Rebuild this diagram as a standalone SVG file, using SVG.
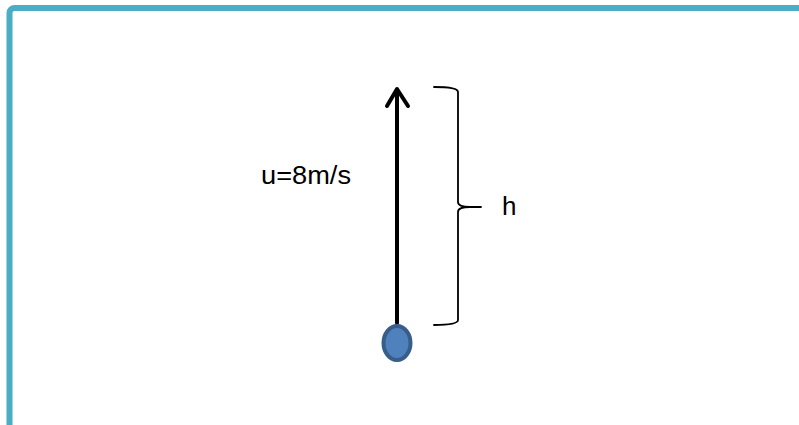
<svg xmlns="http://www.w3.org/2000/svg" width="799" height="425" viewBox="0 0 799 425">
<style>
.lbl{font-family:"Liberation Sans",Arial,sans-serif;font-size:26px;fill:#000}
.frame{fill:none;stroke:#4BACC6;stroke-width:6}
.ln{fill:none;stroke:#000;stroke-linecap:round;stroke-linejoin:round}
</style>
<rect width="799" height="425" fill="#fff"/>
<rect class="frame" x="9.5" y="8" width="820" height="460" rx="5"/>
<g id="connectors">
<path class="ln" d="M397,323 V90" stroke-width="4"/>
<path class="ln" d="M387,106 L397,89 L408,106" stroke-width="4"/>
</g>
<g id="ball">
<ellipse cx="397" cy="343" rx="13.5" ry="17" fill="#4F81BD" stroke="#385D8A" stroke-width="4"/>
</g>
<g id="brace">
<path class="ln" stroke-width="1.8" d="M434,87 Q458,87 458,92 V202 Q458,207 470,207 H481 M470,207 Q458,207 458,212 V320 Q458,325 434,325"/>
</g>
<g id="label-u"><text class="lbl" x="261" y="184" textLength="90" lengthAdjust="spacingAndGlyphs">u=8m/s</text></g>
<g id="label-h"><text class="lbl" x="502" y="215">h</text></g>
</svg>
